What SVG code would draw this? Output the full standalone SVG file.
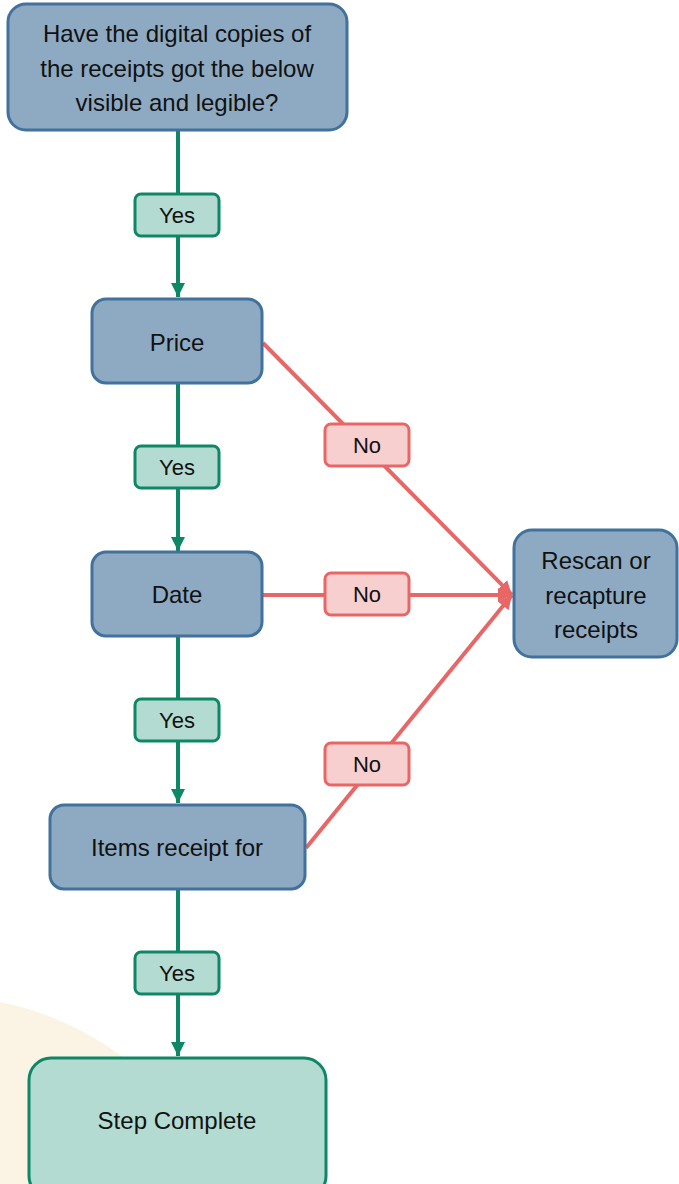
<svg xmlns="http://www.w3.org/2000/svg" width="679" height="1184" viewBox="0 0 679 1184">
<defs>
<style>
text{font-family:"Liberation Sans","Open Sans",sans-serif;fill:#111;text-anchor:middle}
.blue{fill:#8eaac2;stroke:#41719c;stroke-width:3}
.green{fill:#b3dbd1;stroke:#0d8766;stroke-width:3}
.yes{fill:#b3dbd1;stroke:#0d8766;stroke-width:3}
.no{fill:#f8cfcf;stroke:#e96666;stroke-width:3}
.gl{stroke:#0d8766;stroke-width:4;fill:none}
.rl{stroke:#e96666;stroke-width:4;fill:none}
.t{font-size:24px}
.s{font-size:22px}
</style>
<marker id="ga" viewBox="0 0 10 10" refX="10" refY="5" markerWidth="3.5" markerHeight="4" orient="auto" markerUnits="strokeWidth"><path d="M0,0L10,5L0,10z" fill="#0d8766"/></marker>
<marker id="ra" viewBox="0 0 10 10" refX="10" refY="5" markerWidth="3.5" markerHeight="4" orient="auto" markerUnits="strokeWidth"><path d="M0,0L10,5L0,10z" fill="#e96666"/></marker>
</defs>
<rect width="679" height="1184" fill="#fff"/>
<circle cx="-60" cy="1300" r="304" fill="#fbf3e3"/>
<g id="connectors">
<line class="gl" x1="178" y1="131" x2="178" y2="297" marker-end="url(#ga)"/>
<line class="gl" x1="178" y1="384" x2="178" y2="551" marker-end="url(#ga)"/>
<line class="gl" x1="178" y1="637" x2="178" y2="803" marker-end="url(#ga)"/>
<line class="gl" x1="178" y1="890" x2="178" y2="1056" marker-end="url(#ga)"/>
<line class="rl" x1="263" y1="343" x2="512" y2="595" marker-end="url(#ra)"/>
<line class="rl" x1="263" y1="595" x2="512" y2="595" marker-end="url(#ra)"/>
<line class="rl" x1="306" y1="848" x2="512" y2="595" marker-end="url(#ra)"/>
</g>
<g id="lbl-yes1"><rect class="yes" x="135" y="194" width="84" height="42" rx="6"/><text class="s" x="177" y="223">Yes</text></g>
<g id="lbl-yes2"><rect class="yes" x="135" y="446" width="84" height="42" rx="6"/><text class="s" x="177" y="475">Yes</text></g>
<g id="lbl-yes3"><rect class="yes" x="135" y="699" width="84" height="42" rx="6"/><text class="s" x="177" y="728">Yes</text></g>
<g id="lbl-yes4"><rect class="yes" x="135" y="952" width="84" height="42" rx="6"/><text class="s" x="177" y="981">Yes</text></g>
<g id="lbl-no1"><rect class="no" x="325" y="424" width="84" height="42" rx="6"/><text class="s" x="367" y="453">No</text></g>
<g id="lbl-no2"><rect class="no" x="325" y="573" width="84" height="42" rx="6"/><text class="s" x="367" y="602">No</text></g>
<g id="lbl-no3"><rect class="no" x="325" y="743" width="84" height="42" rx="6"/><text class="s" x="367" y="772">No</text></g>
<g id="n-question"><rect class="blue" x="8" y="4" width="339" height="126" rx="18"/>
<text class="t" x="177" y="42">Have the digital copies of</text>
<text class="t" x="177" y="77">the receipts got the below</text>
<text class="t" x="177" y="111">visible and legible?</text></g>
<g id="n-price"><rect class="blue" x="92" y="299" width="170" height="84" rx="14"/><text class="t" x="177" y="351">Price</text></g>
<g id="n-date"><rect class="blue" x="92" y="552" width="170" height="84" rx="14"/><text class="t" x="177" y="603">Date</text></g>
<g id="n-items"><rect class="blue" x="50" y="805" width="255" height="84" rx="14"/><text class="t" x="177" y="856">Items receipt for</text></g>
<g id="n-rescan"><rect class="blue" x="514" y="530" width="163" height="127" rx="18"/>
<text class="t" x="596" y="569">Rescan or</text>
<text class="t" x="596" y="604">recapture</text>
<text class="t" x="596" y="638">receipts</text></g>
<g id="n-complete"><rect class="green" x="29" y="1058" width="297" height="140" rx="22"/><text class="t" x="177" y="1129">Step Complete</text></g>
</svg>
